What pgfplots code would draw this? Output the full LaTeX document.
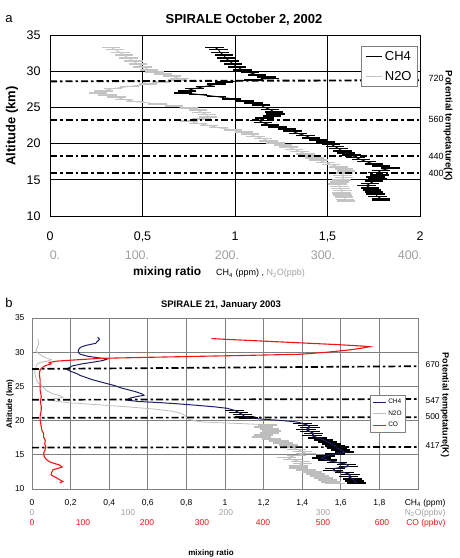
\documentclass[border=0pt]{standalone}
\usepackage{pgfplots}
\pgfplotsset{compat=1.18}
\usepackage{pgfplotstable}
\usepackage{fontspec}
\setmainfont{Liberation Sans}

\definecolor{ntwoa}{HTML}{C4C4C4}
\definecolor{ntwob}{HTML}{BDBDBD}
\definecolor{navy}{HTML}{1E1E66}
\definecolor{cored}{HTML}{EE1515}
\definecolor{lblgray}{HTML}{A0A0A0}
\definecolor{gridb}{HTML}{808080}

\newcommand{\fs}[1]{\fontsize{#1}{#1}\selectfont}

% ---------------- October 2, 2002 ----------------
% altitude (km), CH4 (ppm)
\pgfplotstableread{
alt val
33.3 0.89
33.0 0.91
32.6 0.92
32.2 0.94
31.8 0.95
31.4 0.97
31.0 0.99
30.6 1.01
30.2 1.04
29.8 1.08
29.5 1.12
29.2 1.17
29.0 1.19
28.8 1.10
28.5 0.94
28.2 0.90
27.9 0.84
27.6 0.78
27.3 0.74
27.0 0.72
26.8 0.80
26.5 0.90
26.2 0.98
25.9 1.05
25.6 1.10
25.3 1.14
25.0 1.16
24.7 1.19
24.4 1.21
24.1 1.22
23.8 1.20
23.5 1.16
23.2 1.13
22.9 1.15
22.6 1.19
22.3 1.23
22.0 1.28
21.7 1.31
21.4 1.34
21.1 1.38
20.8 1.41
20.5 1.45
20.2 1.49
19.9 1.52
19.6 1.54
19.3 1.56
19.0 1.58
18.7 1.60
18.4 1.63
18.1 1.65
17.8 1.68
17.5 1.71
17.2 1.75
16.9 1.79
16.6 1.84
16.3 1.79
16.0 1.77
15.7 1.78
15.4 1.76
15.1 1.77
14.8 1.75
14.5 1.73
14.2 1.71
13.9 1.73
13.6 1.74
13.3 1.75
13.0 1.76
12.7 1.77
12.4 1.79
12.2 1.79
}\chfouroct

% altitude (km), N2O (ppb)
\pgfplotstableread{
alt val
33.3 66
33.0 70
32.6 76
32.2 80
31.8 85
31.4 90
31.0 95
30.6 100
30.2 107
29.9 113
29.6 122
29.3 132
29.0 140
28.8 138
28.5 120
28.2 106
27.9 86
27.6 68
27.3 58
27.0 52
26.7 62
26.4 72
26.1 80
25.8 92
25.5 116
25.2 134
24.9 150
24.6 160
24.3 164
24.0 170
23.7 171
23.4 164
23.1 150
22.8 160
22.5 172
22.2 182
21.9 198
21.6 210
21.3 216
21.0 222
20.7 230
20.4 236
20.1 244
19.8 252
19.5 258
19.2 264
18.9 270
18.6 276
18.3 282
18.0 286
17.7 290
17.4 298
17.1 304
16.8 312
16.5 318
16.2 320
15.9 318
15.6 316
15.3 318
15.0 315
14.7 313
14.4 311
14.1 313
13.8 314
13.5 316
13.2 315
12.9 316
12.6 318
12.3 319
12.1 320
}\ntwooct

% ---------------- January 21, 2003 ----------------
% CH4 (ppm): full profile
\pgfplotstableread{
alt val
32.2 0.34
31.9 0.35
31.6 0.34
31.3 0.33
31.0 0.28
30.7 0.25
30.3 0.24
30.0 0.24
29.7 0.25
29.4 0.29
29.2 0.34
29.0 0.39
28.8 0.37
28.6 0.33
28.3 0.26
28.0 0.21
27.7 0.19
27.5 0.18
27.2 0.20
26.9 0.23
26.6 0.25
26.3 0.28
26.0 0.31
25.7 0.35
25.4 0.39
25.1 0.43
24.8 0.46
24.5 0.50
24.2 0.54
23.9 0.57
23.7 0.58
23.5 0.54
23.3 0.51
23.0 0.49
22.8 0.55
22.6 0.68
22.4 0.78
22.2 0.87
22.0 0.95
21.8 1.01
21.5 1.05
21.2 1.07
20.9 1.09
20.6 1.10
20.4 1.12
20.2 1.20
20.0 1.30
19.8 1.37
19.6 1.40
19.3 1.43
19.0 1.44
18.7 1.42
18.4 1.44
18.1 1.46
17.8 1.45
17.5 1.48
17.2 1.51
16.9 1.53
16.6 1.55
16.3 1.57
16.0 1.58
15.7 1.60
15.4 1.62
15.1 1.57
14.8 1.52
14.5 1.50
14.2 1.53
13.9 1.58
13.6 1.63
13.3 1.64
13.0 1.57
12.7 1.56
12.4 1.62
12.1 1.65
11.8 1.64
11.5 1.66
11.2 1.67
10.9 1.68
}\chfourjan

% CH4 (ppm): segments measured with error bars
\pgfplotstableread{
alt val
21.5 1.05
21.2 1.07
20.9 1.09
20.6 1.10
20.4 1.12
}\chfourjanerrA
\pgfplotstableread{
alt val
19.6 1.40
19.3 1.43
19.0 1.44
18.7 1.42
18.4 1.44
18.1 1.46
17.8 1.45
17.5 1.48
17.2 1.51
16.9 1.53
16.6 1.55
16.3 1.57
16.0 1.58
15.7 1.60
15.4 1.62
15.1 1.57
14.8 1.52
14.5 1.50
14.2 1.53
13.9 1.58
13.6 1.63
13.3 1.64
13.0 1.57
12.7 1.56
12.4 1.62
12.1 1.65
11.8 1.64
11.5 1.66
11.2 1.67
10.9 1.68
}\chfourjanerrB

% N2O (ppbv)
\pgfplotstableread{
alt val
31.9 6
31.3 7
30.8 6
30.3 4
29.9 6
29.5 10
29.2 14
28.9 20
28.7 16
28.5 8
28.2 5
27.8 4
27.3 3
26.8 3
26.3 4
25.8 5
25.3 8
24.8 12
24.3 16
23.9 22
23.6 30
23.4 32
23.2 24
23.0 20
22.8 26
22.6 40
22.3 70
22.0 100
21.7 126
21.4 144
21.1 154
20.8 158
20.5 160
20.2 162
20.0 168
19.8 176
19.6 210
19.4 244
}\ntwojan
\pgfplotstableread{
alt val
19.4 244
19.1 240
18.8 246
18.5 248
18.2 246
17.9 240
17.6 238
17.3 248
17.0 256
16.7 260
16.4 266
16.1 270
15.8 274
15.5 280
15.2 284
14.9 274
14.6 264
14.3 270
14.0 278
13.7 280
13.4 276
13.1 276
12.8 284
12.5 290
12.2 294
11.9 298
11.6 302
11.3 306
11.0 310
10.8 314
}\ntwojanerr

% CO (ppbv)
\pgfplotstableread{
alt val
10.9 48
11.1 53
11.4 47
11.6 43
11.9 36
12.1 33
12.4 34
12.8 36
13.0 44
13.2 52
13.5 48
13.8 36
14.0 30
14.3 25
14.5 23
14.8 21
15.2 20
15.6 22
16.1 24
16.6 22
17.1 23
17.6 20
18.1 20
18.6 17
19.1 16
19.6 15
20.1 14
20.6 14
21.1 15
21.6 16
22.0 16
22.5 15
23.0 15
23.5 16
24.0 15
24.5 14
25.0 14
25.5 14
26.0 14
26.5 13
27.0 13
27.4 14
27.7 17
28.0 22
28.3 33
28.5 30
28.7 43
28.9 80
29.1 117
29.25 200
29.4 290
29.55 380
29.7 463
30.0 510
30.3 545
30.6 570
30.8 583
30.9 570
31.1 530
31.3 480
31.5 430
31.7 380
31.9 330
32.0 310
}\cojan

\pgfplotsset{
  /pgf/number format/assume math mode=true,
  dashdot/.style={black, line width=1.9pt, dash pattern=on 7pt off 3pt on 2.5pt off 3pt, forget plot},
  whisk/.style={error bars/x dir=both, error bars/x fixed=#1, error bars/error mark=none,
    error bars/error bar style={line width=1.6pt, solid}},
}

\begin{document}
\begin{tikzpicture}
\path[use as bounding box] (0,0) rectangle (459pt,558pt);

% ===== panel a =====
\node[anchor=base, font=\fs{13}] at (9pt,535pt) {a};
\node[font=\bfseries\fs{13}] at (244pt,538pt) {SPIRALE October 2, 2002};

\begin{axis}[
  at={(50pt,342pt)}, anchor=south west,
  scale only axis, width=370pt, height=181pt,
  xmin=0, xmax=2, ymin=10, ymax=35,
  xtick={0,0.5,1,1.5,2}, xticklabels={0,{0,5},1,{1,5},2},
  ytick={10,15,20,25,30,35},
  grid=major, major grid style={black, line width=0.6pt},
  axis line style={black, line width=0.7pt},
  tick style={draw=none},
  ticklabel style={font=\fs{12.5}},
  xticklabel style={yshift=-12pt},
  yticklabel style={xshift=-6pt},
  legend style={at={(rel axis cs:1,1)}, anchor=north east, xshift=-2pt, yshift=-11pt,
    font=\fs{13}, draw=gray, line width=0.8pt, inner xsep=4pt, inner ysep=3pt,
    row sep=5pt, cells={anchor=west}},
  legend image code/.code={\draw[#1] (0pt,0pt) -- (16pt,0pt);},
]
\addplot[ntwoa, line width=0.9pt, whisk=0.05, forget plot]
  table[x expr=\thisrow{val}/200, y=alt] {\ntwooct};
\addplot[black, line width=0.9pt, whisk=0.05, forget plot]
  table[x=val, y=alt] {\chfouroct};

\addplot[dashdot] coordinates {(0,28.6) (2,28.75)};
\addplot[dashdot] coordinates {(0,23.25) (2,23.25)};
\addplot[dashdot] coordinates {(0,18.3) (2,18.3)};
\addplot[dashdot] coordinates {(0,15.95) (2,15.95)};

\addlegendimage{black, line width=0.8pt}
\addlegendentry{CH4}
\addlegendimage{ntwoa, line width=1.2pt}
\addlegendentry{N2O}
\end{axis}

\node[rotate=90, font=\bfseries\fs{13}] at (12pt,432pt) {Altitude (km)};
\node[rotate=-90, font=\bfseries\fs{9.5}] at (448pt,432pt) {Potential tempetature(K)};
\begin{scope}[every node/.style={anchor=west, font=\fs{9}}]
  \node at (425pt,480pt) {720};
  \node at (425pt,439pt) {560};
  \node at (425pt,402pt) {440};
  \node at (425pt,385pt) {400};
\end{scope}
\begin{scope}[every node/.style={font=\fs{12.5}, text=lblgray}]
  \node at (55pt,303pt) {0.};
  \node at (137pt,303pt) {100.};
  \node at (227pt,303pt) {200.};
  \node at (323pt,303pt) {300.};
  \node at (410pt,303pt) {400.};
\end{scope}
\node[anchor=base west, font=\bfseries\fs{12}, inner sep=0pt] at (133pt,282pt) {mixing ratio};
\node[anchor=base west, font=\fs{9}, inner sep=0pt] at (216pt,282pt)
  {CH\textsubscript{4} (ppm) , \textcolor{lblgray}{N\textsubscript{2}O(ppb)}};

% ===== panel b =====
\node[anchor=base, font=\fs{13}] at (9pt,250pt) {b};
\node[font=\bfseries\fs{9.5}] at (221pt,253pt) {SPIRALE 21, January 2003};

\begin{axis}[
  at={(32pt,69pt)}, anchor=south west,
  scale only axis, width=386pt, height=171pt,
  xmin=0, xmax=2, ymin=10, ymax=35,
  xtick={0,0.2,0.4,0.6,0.8,1,1.2,1.4,1.6,1.8,2},
  xticklabels={0,{0,2},{0,4},{0,6},{0,8},1,{1,2},{1,4},{1,6},{1,8},{}},
  ytick={10,15,20,25,30,35},
  grid=major, major grid style={gridb, line width=0.9pt},
  axis line style={gridb, line width=1pt},
  tick style={draw=none},
  ticklabel style={font=\fs{8.5}},
  xticklabel style={yshift=-7pt},
  yticklabel style={xshift=-4pt},
  legend style={at={(rel axis cs:1,1)}, anchor=north east, xshift=-12pt, yshift=-77pt,
    font=\fs{6.5}, draw=gray, line width=0.7pt, inner xsep=2pt, inner ysep=2pt,
    row sep=1.5pt, cells={anchor=west}},
  legend image code/.code={\draw[#1] (0pt,0pt) -- (13pt,0pt);},
]
\addplot[ntwob, line width=0.8pt, forget plot]
  table[x expr=\thisrow{val}/200, y=alt] {\ntwojan};
\addplot[ntwob, line width=0.8pt, whisk=0.05, forget plot]
  table[x expr=\thisrow{val}/200, y=alt] {\ntwojanerr};
\addplot[black, line width=0.8pt, whisk=0.05, forget plot]
  table[x=val, y=alt] {\chfourjanerrA};
\addplot[black, line width=0.8pt, whisk=0.05, forget plot]
  table[x=val, y=alt] {\chfourjanerrB};
\addplot[navy, line width=1pt, forget plot]
  table[x=val, y=alt] {\chfourjan};
\addplot[cored, line width=1.1pt, forget plot]
  table[x expr=\thisrow{val}/333.33, y=alt] {\cojan};

\addplot[dashdot, line width=1.7pt] coordinates {(0,27.55) (2,27.95)};
\addplot[dashdot, line width=1.7pt] coordinates {(0,23.05) (2,23.15)};
\addplot[dashdot, line width=1.7pt] coordinates {(0,20.4) (2,20.5)};
\addplot[dashdot, line width=1.7pt] coordinates {(0,16.05) (2,16.15)};

\addlegendimage{navy, line width=0.9pt}
\addlegendentry{CH4}
\addlegendimage{ntwob, line width=0.9pt}
\addlegendentry{N2O}
\addlegendimage{cored, line width=0.9pt}
\addlegendentry{CO}
\end{axis}

\node[rotate=90, font=\bfseries\fs{8}] at (10pt,154pt) {Altitude (km)};
\node[rotate=-90, font=\bfseries\fs{9}] at (445pt,153pt) {Potential tempetature(K)};
\begin{scope}[every node/.style={anchor=west, font=\fs{8.5}}]
  \node at (422pt,193pt) {670};
  \node at (422pt,157pt) {547};
  \node at (422pt,141pt) {500};
  \node at (422pt,112pt) {417};
\end{scope}
\begin{scope}[every node/.style={font=\fs{8.5}, text=lblgray}]
  \node at (32pt,45pt) {0};
  \node at (128pt,45pt) {100};
  \node at (226pt,45pt) {200};
  \node at (323pt,45pt) {300};
\end{scope}
\begin{scope}[every node/.style={font=\fs{8.5}, text=cored}]
  \node at (32pt,35pt) {0};
  \node at (83pt,35pt) {100};
  \node at (147pt,35pt) {200};
  \node at (202pt,35pt) {300};
  \node at (263pt,35pt) {400};
  \node at (323pt,35pt) {500};
  \node at (382pt,35pt) {600};
\end{scope}
\node[anchor=east, font=\fs{8.5}] at (449pt,55pt) {CH\textsubscript{4} (ppm)};
\node[anchor=east, font=\fs{8.5}, text=lblgray] at (449pt,45pt) {N\textsubscript{2}O(ppbv)};
\node[anchor=east, font=\fs{8.5}, text=cored] at (449pt,35pt) {CO (ppbv)};
\node[font=\bfseries\fs{8}] at (211pt,5pt) {mixing ratio};
\end{tikzpicture}
\end{document}
